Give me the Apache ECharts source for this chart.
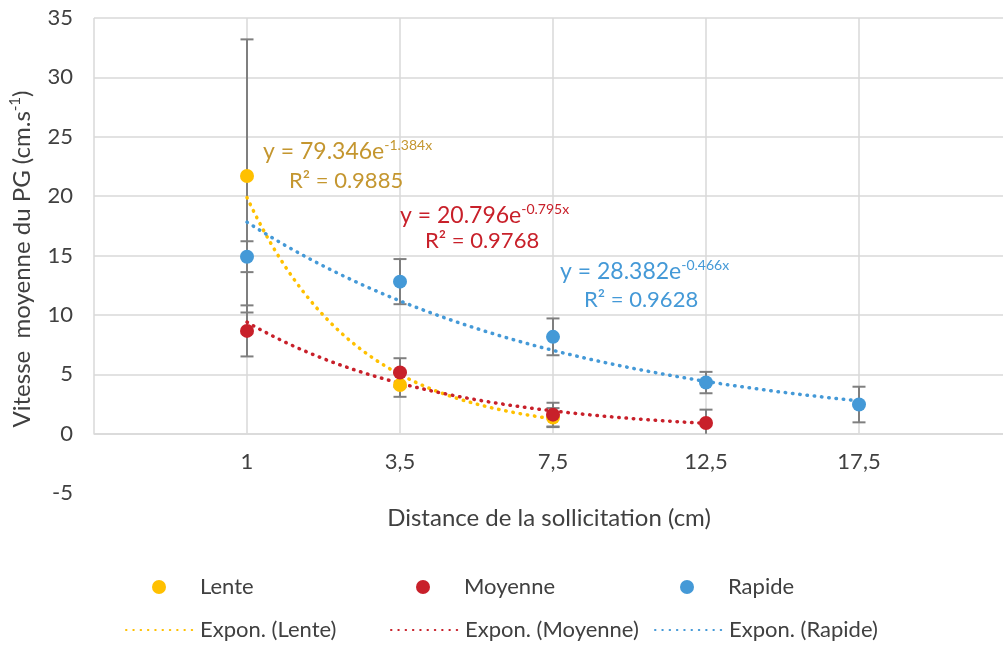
<!DOCTYPE html>
<html><head><meta charset="utf-8">
<script src="https://cdn.jsdelivr.net/npm/echarts@6/dist/echarts.min.js"></script>
<style>html,body{margin:0;padding:0;background:#fff}#c{width:1003px;height:646px}</style>
</head><body><div id="c"></div>
<script>
// ---- data ----
const categories = ['1', '3,5', '7,5', '12,5', '17,5'];
const xPositions = [1, 2, 3, 4, 5];
const lenteValues = [21.7, 4.1, 1.35];
const lenteErrors = [11.5, 1.0, 0.8];
const moyenneValues = [8.65, 5.15, 1.6, 0.9];
const moyenneErrors = [2.15, 1.2, 1.0, 1.12];
const rapideValues = [14.9, 12.8, 8.15, 4.3, 2.45];
const rapideErrors = [1.3, 1.9, 1.55, 0.9, 1.5];
// exponential trendlines shown on chart: y = a * e^(b x)
const lenteTrend = [79.346, -1.384];
const moyenneTrend = [20.796, -0.795];
const rapideTrend = [28.382, -0.466];
const lenteR2 = '0.9885', moyenneR2 = '0.9768', rapideR2 = '0.9628';
const yTicks = [-5, 0, 5, 10, 15, 20, 25, 30, 35];
const xGridTicks = [0, 1, 2, 3, 4, 5];

const FONT = 'Lato';
const TXT = '#404040';
const C_L = '#FFC000', C_M = '#C8202A', C_R = '#4499D7';
const C_LT = '#C4962F';

function pts(vals) { return vals.map((v, i) => [xPositions[i], v]); }
function errPts(vals, errs) { return vals.map((v, i) => [xPositions[i], v, errs[i]]); }
function trendPts(coef, n) {
  const out = [];
  const x0 = xPositions[0], x1 = xPositions[n - 1];
  for (let k = 0; k <= 80; k++) {
    const x = x0 + (x1 - x0) * k / 80;
    out.push([x, coef[0] * Math.exp(coef[1] * x)]);
  }
  return out;
}

const chart = echarts.init(document.getElementById('c'));

function errSeries(vals, errs) {
  return {
    type: 'custom', z: 2, silent: true,
    data: errPts(vals, errs),
    encode: { x: 0, y: 1 },
    renderItem(params, api) {
      const x = api.value(0), v = api.value(1), e = api.value(2);
      const lo = Math.max(0, v - e);
      const top = api.coord([x, v + e]);
      const bot = api.coord([x, lo]);
      const w = 6.5;
      const st = { stroke: '#7F7F7F', lineWidth: 2 };
      const ch = [
        { type: 'line', shape: { x1: top[0], y1: top[1], x2: bot[0], y2: bot[1] }, style: st },
        { type: 'line', shape: { x1: top[0] - w, y1: top[1], x2: top[0] + w, y2: top[1] }, style: st }
      ];
      if (v - e > 0) ch.push({ type: 'line', shape: { x1: bot[0] - w, y1: bot[1], x2: bot[0] + w, y2: bot[1] }, style: st });
      return { type: 'group', children: ch };
    }
  };
}
function trendSeries(name, coef, n, color) {
  return {
    name, type: 'line', z: 3, silent: true, symbol: 'none', showSymbol: false,
    data: trendPts(coef, n),
    lineStyle: { color, width: 3.5, type: [0.5, 6.8], cap: 'round' },
    itemStyle: { color }
  };
}
function pointSeries(name, vals, color) {
  return {
    name, type: 'scatter', z: 4, symbol: 'circle', symbolSize: 14,
    data: pts(vals), itemStyle: { color, opacity: 1 }
  };
}
function legendDot(name, left, top) {
  return {
    data: [name], left, top, itemWidth: 14, itemHeight: 14,
    itemGap: 0, padding: 0, selectedMode: false,
    textStyle: { fontFamily: FONT, fontSize: 22, color: TXT, padding: [0, 0, 0, 29] }
  };
}
function legendLine(name, left, top) {
  return {
    data: [name], left, top, itemWidth: 69, itemHeight: 14,
    itemGap: 0, padding: 0, selectedMode: false,
    itemStyle: { opacity: 0 },
    textStyle: { fontFamily: FONT, fontSize: 22, color: TXT }
  };
}
function eqText(left, top, a, b, color) {
  return {
    type: 'text', left, top, z: 10,
    style: {
      text: '{m|y = ' + a + 'e}{s|' + b + 'x}',
      rich: {
        m: { fontFamily: FONT, fontSize: 23, fill: color, lineHeight: 27 },
        s: { fontFamily: FONT, fontSize: 14, fill: color, lineHeight: 14, verticalAlign: 'top' }
      }
    }
  };
}
function r2Text(left, top, r, color) {
  return {
    type: 'text', left, top, z: 10,
    style: { text: 'R² = ' + r, fontFamily: FONT, fontSize: 22, fill: color }
  };
}

const splitColors = yTicks.map((t, i) => i === 0 ? 'rgba(0,0,0,0)' : '#D9D9D9');
const pxPerUnit = (646 - 153 - 18) / (yTicks[yTicks.length - 1] - yTicks[0]);

chart.setOption({
  animation: false,
  backgroundColor: '#fff',
  grid: { left: 94, width: 918, top: 18, bottom: 153, containLabel: false, outerBoundsMode: 'none' },
  xAxis: {
    type: 'value', min: 0, max: 6, interval: 1,
    offset: yTicks[0] * pxPerUnit,
    axisLine: { onZero: false, lineStyle: { color: '#D9D9D9', width: 1.5 } },
    axisTick: { show: false },
    splitLine: { show: false },
    axisLabel: {
      margin: 17, fontFamily: FONT, fontSize: 22, color: TXT,
      formatter: v => { const i = xPositions.indexOf(v); return i >= 0 ? categories[i] : ''; }
    }
  },
  yAxis: {
    type: 'value', min: yTicks[0], max: yTicks[yTicks.length - 1], interval: 5,
    axisLine: { show: false }, axisTick: { show: false },
    splitLine: { show: true, lineStyle: { color: splitColors, width: 1.5 } },
    axisLabel: { margin: 21, fontFamily: FONT, fontSize: 22, color: TXT }
  },
  legend: [
    legendDot('Lente', 152, 576),
    legendDot('Moyenne', 416, 576),
    legendDot('Rapide', 680, 576),
    legendLine('Expon. (Lente)', 125, 619),
    legendLine('Expon. (Moyenne)', 390, 619),
    legendLine('Expon. (Rapide)', 654, 619)
  ],
  graphic: [
    {
      type: 'text', z: 10, x: 22, y: 259, rotation: Math.PI / 2,
      style: {
        text: '{m|Vitesse  moyenne du PG (cm.s}{s|-1}{m|)}',
        align: 'center', verticalAlign: 'middle',
        rich: {
          m: { fontFamily: FONT, fontSize: 24, fill: TXT, lineHeight: 28 },
          s: { fontFamily: FONT, fontSize: 15, fill: TXT, lineHeight: 15, verticalAlign: 'top' }
        }
      }
    },
    {
      type: 'text', z: 10, x: 549, y: 518,
      style: { text: 'Distance de la sollicitation (cm)', fontFamily: FONT, fontSize: 24, fill: TXT, align: 'center', verticalAlign: 'middle' }
    },
    eqText(263, 138, lenteTrend[0].toFixed(3), lenteTrend[1].toFixed(3), C_LT),
    r2Text(289, 170, lenteR2, C_LT),
    eqText(400, 202, moyenneTrend[0].toFixed(3), moyenneTrend[1].toFixed(3), C_M),
    r2Text(425, 230, moyenneR2, C_M),
    eqText(560, 258, rapideTrend[0].toFixed(3), rapideTrend[1].toFixed(3), C_R),
    r2Text(584, 289, rapideR2, C_R)
  ],
  series: [
    {
      type: 'custom', z: 1, silent: true,
      data: xGridTicks.map(v => [v, 0]),
      encode: { x: 0, y: 1 },
      renderItem(params, api) {
        const x = api.value(0);
        const p0 = api.coord([x, 0]);
        const p1 = api.coord([x, yTicks[yTicks.length - 1]]);
        return { type: 'line', shape: { x1: p0[0], y1: p0[1], x2: p1[0], y2: p1[1] }, style: { stroke: '#D9D9D9', lineWidth: 1.5 } };
      }
    },
    errSeries(lenteValues, lenteErrors),
    errSeries(moyenneValues, moyenneErrors),
    errSeries(rapideValues, rapideErrors),
    trendSeries('Expon. (Lente)', lenteTrend, lenteValues.length, C_L),
    trendSeries('Expon. (Moyenne)', moyenneTrend, moyenneValues.length, C_M),
    trendSeries('Expon. (Rapide)', rapideTrend, rapideValues.length, C_R),
    pointSeries('Lente', lenteValues, C_L),
    pointSeries('Moyenne', moyenneValues, C_M),
    pointSeries('Rapide', rapideValues, C_R)
  ]
});
</script>
</body></html>
